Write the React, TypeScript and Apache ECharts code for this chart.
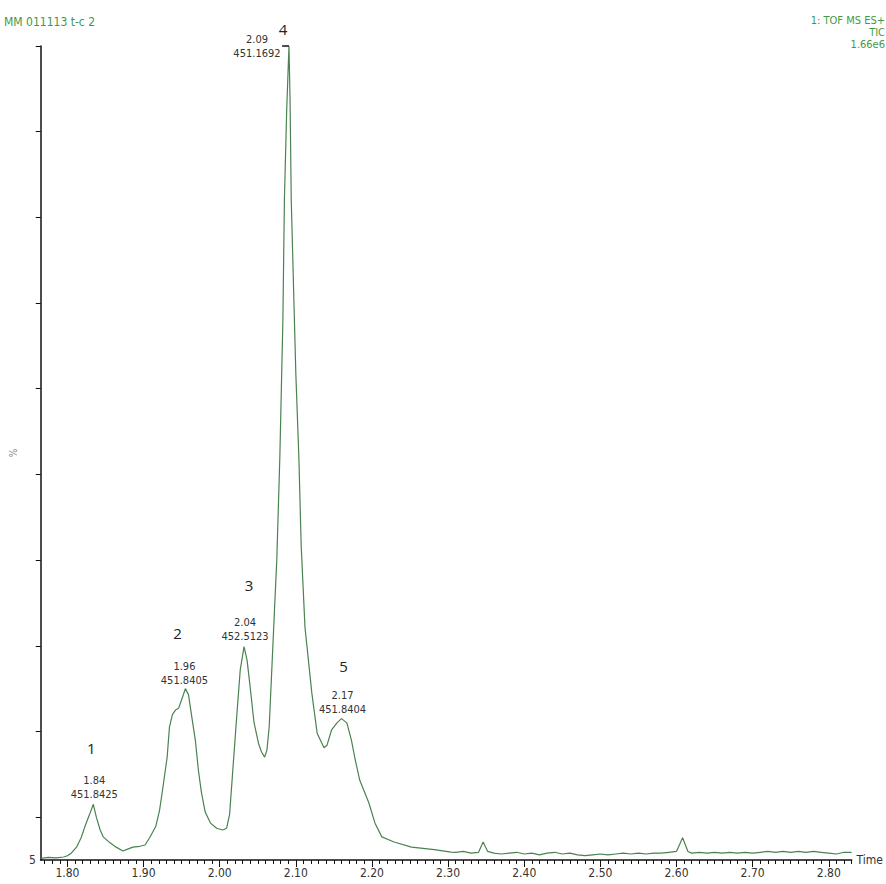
import React, { useEffect, useRef } from "react";
import * as echarts from "echarts";

// Chromatogram trace (retention time in minutes, relative intensity in %)
const times = [
  1.765, 1.775, 1.785, 1.795, 1.8, 1.805, 1.812, 1.818, 1.823, 1.829, 1.834, 1.838, 1.843, 1.847, 1.856,
  1.864, 1.873, 1.88, 1.886, 1.895, 1.902, 1.908, 1.916, 1.921, 1.925, 1.931, 1.934, 1.938, 1.942, 1.946,
  1.95, 1.955, 1.959, 1.963, 1.968, 1.972, 1.976, 1.981, 1.988, 1.996, 2.004, 2.009, 2.013, 2.017, 2.022,
  2.027, 2.032, 2.036, 2.04, 2.045, 2.051, 2.055, 2.059, 2.062, 2.065, 2.069, 2.073, 2.075, 2.079, 2.083,
  2.085, 2.088, 2.091, 2.0924, 2.094, 2.0977, 2.1, 2.104, 2.107, 2.112, 2.121, 2.128, 2.137, 2.141, 2.147,
  2.154, 2.16, 2.167, 2.173, 2.178, 2.184, 2.196, 2.204, 2.213, 2.229, 2.252, 2.282, 2.304, 2.31, 2.32,
  2.33, 2.34, 2.346, 2.352, 2.36, 2.37, 2.38, 2.39, 2.4, 2.41, 2.42, 2.43, 2.44, 2.45, 2.46, 2.47, 2.48,
  2.49, 2.5, 2.51, 2.52, 2.53, 2.54, 2.55, 2.56, 2.57, 2.58, 2.59, 2.6, 2.608, 2.615, 2.62, 2.63, 2.64,
  2.65, 2.66, 2.67, 2.68, 2.69, 2.7, 2.71, 2.72, 2.73, 2.74, 2.75, 2.76, 2.77, 2.78, 2.79, 2.8, 2.81,
  2.82, 2.83,
];
const intensities = [
  5.2, 5.3, 5.25, 5.35, 5.5, 5.8, 6.5, 7.6, 8.9, 10.3, 11.5, 10.0, 8.5, 7.7, 7.0,
  6.5, 6.05, 6.3, 6.5, 6.6, 6.75, 7.6, 8.9, 10.8, 13.2, 17.0, 20.5, 22.0, 22.5, 22.7,
  23.7, 25.0, 24.3, 21.9, 19.0, 15.5, 12.9, 10.6, 9.3, 8.7, 8.5, 8.7, 10.3, 15.2, 21.3,
  27.2, 29.9, 28.3, 25.2, 21.1, 18.6, 17.6, 17.0, 17.8, 20.5, 28.3, 36.2, 40.0, 52.0, 68.0,
  82.0, 92.5, 100, 93.8, 82.0, 69.5, 61.8, 52.0, 41.8, 32.2, 24.5, 19.8, 18.1, 18.4, 20.2,
  21.0, 21.5, 21.0, 19.0, 16.7, 14.3, 11.65, 9.3, 7.7, 7.1, 6.5, 6.2, 5.93, 5.9, 6.0,
  5.8, 5.9, 7.1, 6.0, 5.8, 5.7, 5.8, 5.9, 5.7, 5.8, 5.6, 5.8, 5.9, 5.7, 5.8, 5.6, 5.5,
  5.6, 5.7, 5.6, 5.7, 5.8, 5.7, 5.8, 5.7, 5.8, 5.8, 5.9, 6.0, 7.6, 6.0, 5.8, 5.9, 5.8,
  5.9, 5.8, 5.9, 5.8, 5.9, 5.8, 5.9, 6.0, 5.9, 6.0, 5.9, 6.0, 5.9, 6.0, 5.9, 5.8, 5.7,
  5.9, 5.9,
];

// Peak annotations
const peakNumbers = ["1", "2", "3", "4", "5"];
const peakTimes = [1.84, 1.96, 2.04, 2.09, 2.17];
const peakMasses = ["451.8425", "451.8405", "452.5123", "451.1692", "451.8404"];

// Axis tick labels
const xLabelValues = [1.8, 1.9, 2.0, 2.1, 2.2, 2.3, 2.4, 2.5, 2.6, 2.7, 2.8];
const yTickValues = [10, 20, 30, 40, 50, 60, 70, 80, 90, 100];
const yLabelValues = [5];

const headerLeft = "MM 011113 t-c 2";
const headerRight = ["1: TOF MS ES+", "TIC", "1.66e6"];

const NARROW = '"Liberation Sans Narrow", "Arial Narrow", "DejaVu Sans Condensed", "Liberation Sans", sans-serif';
const GREEN_TEXT = "#3f9a46";
const LINE = "#4a8250";

// label styling (offsets in px relative to each apex)
const valueOffsets: [number, number][] = [[1, -17], [-1, -15], [1, -17], [-32, 0], [1, -16]];
const numberOffsets: [number, number][] = [[-2, -56], [-8, -56], [5, -62], [-6, -17], [2, -53]];

function findApex(t: number): [number, number] {
  let best = -1;
  let bi = 0;
  for (let i = 0; i < times.length; i++) {
    if (Math.abs(times[i] - t) <= 0.015 && intensities[i] > best) {
      best = intensities[i];
      bi = i;
    }
  }
  return [times[bi], intensities[bi]];
}

export default function App() {
  const ref = useRef<HTMLDivElement>(null);

  useEffect(() => {
    if (!ref.current) return;
    const chart = echarts.init(ref.current, undefined, { renderer: "svg" });

    const data = times.map((t, i) => [t, intensities[i]]);
    const minorTicks: number[] = [];
    for (let k = 177; k <= 283; k++) minorTicks.push(k / 100);

    const markData: any[] = [];
    peakTimes.forEach((pt, i) => {
      const apex = findApex(pt);
      markData.push({
        coord: apex,
        symbolSize: 0,
        label: {
          show: true,
          position: "inside",
          offset: valueOffsets[i],
          formatter: `${peakTimes[i].toFixed(2)}\n${peakMasses[i]}`,
          fontFamily: NARROW,
          fontSize: 11,
          lineHeight: 14,
          color: "#333",
          align: "center",
        },
      });
      markData.push({
        coord: apex,
        symbolSize: 0,
        label: {
          show: true,
          position: "inside",
          offset: numberOffsets[i],
          formatter: peakNumbers[i],
          fontFamily: '"Open Sans", "Liberation Sans", sans-serif',
          fontSize: 15,
          color: "#222",
        },
      });
    });

    const apex4 = findApex(peakTimes[3]);

    const headerRightTops = [15, 27, 39];

    chart.setOption({
      animation: false,
      backgroundColor: "#ffffff",
      graphic: [
        {
          type: "text",
          left: 4,
          top: 16,
          style: {
            text: headerLeft,
            font: `12px ${NARROW}`,
            fill: GREEN_TEXT,
          },
        },
        ...headerRight.map((txt, i) => ({
          type: "text",
          right: 1,
          top: headerRightTops[i],
          style: {
            text: txt,
            font: `11px ${NARROW}`,
            fill: GREEN_TEXT,
          },
        })),
      ],
      grid: { left: 37, right: 33, top: 46, bottom: 24, containLabel: false },
      xAxis: [
        {
          type: "value",
          min: 1.765,
          max: 2.83,
          name: "Time",
          nameLocation: "end",
          nameGap: 5,
          nameTextStyle: { fontFamily: NARROW, fontSize: 12, color: "#333", verticalAlign: "middle" },
          axisLine: { show: true, lineStyle: { color: "#111", width: 1.5 } },
          axisTick: { show: true, customValues: xLabelValues, length: 7, lineStyle: { color: "#111" } },
          axisLabel: {
            show: true,
            customValues: xLabelValues,
            formatter: (v: number) => v.toFixed(2),
            fontFamily: NARROW,
            fontSize: 12,
            color: "#333",
            margin: 7,
          },
          splitLine: { show: false },
        },
        {
          type: "value",
          min: 1.765,
          max: 2.83,
          position: "bottom",
          axisLine: { show: false },
          axisTick: { show: true, customValues: minorTicks, length: 4, lineStyle: { color: "#111" } },
          axisLabel: { show: false },
          splitLine: { show: false },
        },
      ],
      yAxis: {
        type: "value",
        min: 5,
        max: 100,
        name: "%",
        nameLocation: "middle",
        nameRotate: 90,
        nameGap: 13,
        nameTextStyle: { fontFamily: NARROW, fontSize: 10, color: "#888" },
        axisLine: { show: true, lineStyle: { color: "#111", width: 1.5 } },
        axisTick: { show: true, customValues: yTickValues, length: 5, lineStyle: { color: "#111" } },
        axisLabel: {
          show: true,
          customValues: yLabelValues,
          formatter: (v: number) => String(v),
          fontFamily: NARROW,
          fontSize: 12,
          color: "#333",
          margin: 5,
        },
        splitLine: { show: false },
      },
      series: [
        {
          type: "line",
          xAxisIndex: 0,
          data,
          showSymbol: false,
          symbol: "none",
          lineStyle: { color: LINE, width: 1.2 },
          markPoint: { silent: true, symbol: "circle", symbolSize: 0, data: markData },
          markLine: {
            silent: true,
            symbol: "none",
            label: { show: false },
            lineStyle: { color: "#111", width: 1.5, type: "solid" },
            data: [[{ coord: [apex4[0] - 0.009, apex4[1]] }, { coord: [apex4[0], apex4[1]] }]],
          },
        },
      ],
    });

    return () => chart.dispose();
  }, []);

  return (
    <div
      ref={ref}
      style={{ position: "fixed", left: 0, top: 0, width: 886, height: 884, background: "#fff" }}
    />
  );
}
